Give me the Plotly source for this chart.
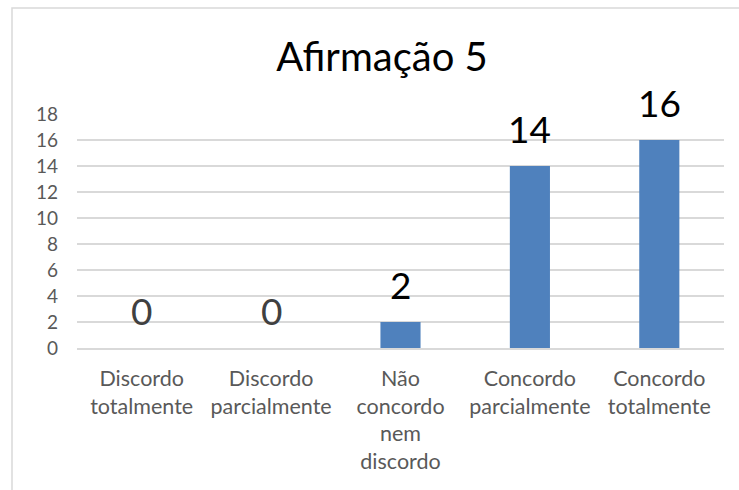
import plotly.graph_objects as go

categories = ["Discordo<br>totalmente", "Discordo<br>parcialmente", "Não<br>concordo<br>nem<br>discordo",
              "Concordo<br>parcialmente", "Concordo<br>totalmente"]
values = [0, 0, 2, 14, 16]
y_ticks = [0, 2, 4, 6, 8, 10, 12, 14, 16, 18]
title = "Afirmação 5"

FONT = "Lato"
fig = go.Figure(go.Bar(
    x=categories, y=values,
    marker=dict(color="#4F81BD", line=dict(width=0)),
    width=0.31,
    hoverinfo="x+y",
))

for c, v in zip(categories, values):
    fig.add_annotation(x=c, y=v, xref="x", yref="y", text=str(v), showarrow=False,
                       yanchor="bottom", xanchor="center", yshift=13,
                       font=dict(family=FONT, size=37, color="#404040" if v == 0 else "#000000"))

fig.update_layout(
    width=739, height=490,
    margin=dict(l=77, r=15, t=114, b=142),
    paper_bgcolor="white", plot_bgcolor="white",
    showlegend=False,
    title=dict(text=title, x=(382 - 77) / 647, xref="paper", xanchor="center",
               y=1 - 57 / 490, yanchor="middle",
               font=dict(family=FONT, size=40, color="#000000")),
    font=dict(family=FONT, color="#595959"),
)
fig.update_yaxes(range=[0, 18], tickvals=y_ticks, showgrid=True, gridcolor="#d9d9d9", gridwidth=1.5,
                 zeroline=False, showline=False, ticks="", tickfont=dict(family=FONT, size=19, color="#595959"),
                 ticklabelstandoff=18, fixedrange=True)
fig.update_xaxes(showline=True, linecolor="#d9d9d9", linewidth=1.5, ticks="",
                 tickfont=dict(family=FONT, size=21.5, color="#595959"), ticklabelstandoff=10, tickangle=0)

fig.add_shape(type="rect", xref="paper", yref="paper",
              x0=(12 - 77) / 647, x1=1.3, y0=-1.0, y1=(348 - 8) / 234,
              line=dict(color="#d9d9d9", width=1.5), fillcolor="rgba(0,0,0,0)", layer="below")

fig.write_html("out.html")
